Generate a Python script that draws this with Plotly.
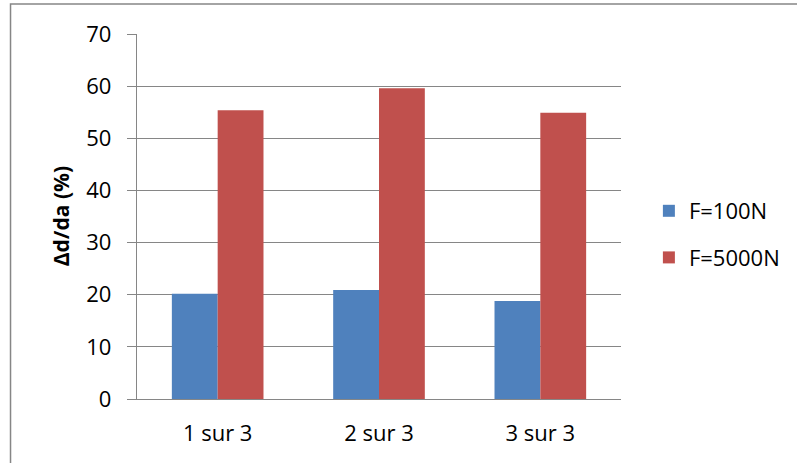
import plotly.graph_objects as go

# Data
categories = ["1 sur 3", "2 sur 3", "3 sur 3"]
f100 = [20.2, 20.9, 18.8]
f5000 = [55.4, 59.6, 54.9]
series_names = ["F=100N", "F=5000N"]
y_ticks = [0, 10, 20, 30, 40, 50, 60, 70]

W, H = 797, 463
L, R, T, B = 137, 174, 34, 64
pw, ph = W - L - R, H - T - B


def px_x(px):
    return (px - L) / pw


def px_y(py):
    return (H - B - py) / ph


FONT = "Open Sans"
GRAY = "#868686"

fig = go.Figure()
fig.add_trace(go.Bar(x=categories, y=f100, name=series_names[0],
                     marker=dict(color="#4F81BD", line=dict(width=0)),
                     legendgroup="a"))
fig.add_trace(go.Bar(x=categories, y=f5000, name=series_names[1],
                     marker=dict(color="#C0504D", line=dict(width=0)),
                     legendgroup="b"))

fig.update_layout(
    width=W, height=H,
    margin=dict(l=L, r=R, t=T, b=B, pad=0),
    paper_bgcolor="white", plot_bgcolor="white",
    barmode="group", bargap=0.432, bargroupgap=0,
    font=dict(family=FONT, size=22, color="black"),
    showlegend=True,
    legend=dict(x=px_x(651), y=px_y(190), xanchor="left", yanchor="top",
                font=dict(family=FONT, size=22), tracegroupgap=15,
                bgcolor="rgba(0,0,0,0)", itemclick=False),
    xaxis=dict(showgrid=False, showline=True, linecolor=GRAY, linewidth=1.3,
               ticks="", tickfont=dict(size=22), ticklabelstandoff=14,
               fixedrange=True),
    yaxis=dict(range=[0, 70], tickvals=y_ticks, showgrid=True,
               gridcolor=GRAY, gridwidth=1.3, showline=True, linecolor=GRAY,
               linewidth=1.3, ticks="outside", ticklen=9, tickcolor=GRAY,
               tickwidth=1.3, tickfont=dict(size=22), ticklabelstandoff=11,
               zeroline=False, fixedrange=True),
    shapes=[dict(type="rect", xref="paper", yref="paper",
                 x0=px_x(10), x1=px_x(820), y0=px_y(490), y1=px_y(4),
                 line=dict(color=GRAY, width=1.5), fillcolor="rgba(0,0,0,0)",
                 layer="below")],
    annotations=[dict(text="<b>\u0394d/da (%)</b>", xref="paper", yref="paper",
                      x=px_x(61), y=px_y(216), textangle=-90, showarrow=False,
                      xanchor="center", yanchor="middle",
                      font=dict(family=FONT, size=21, color="black"))],
)

fig.write_html("out.html")
